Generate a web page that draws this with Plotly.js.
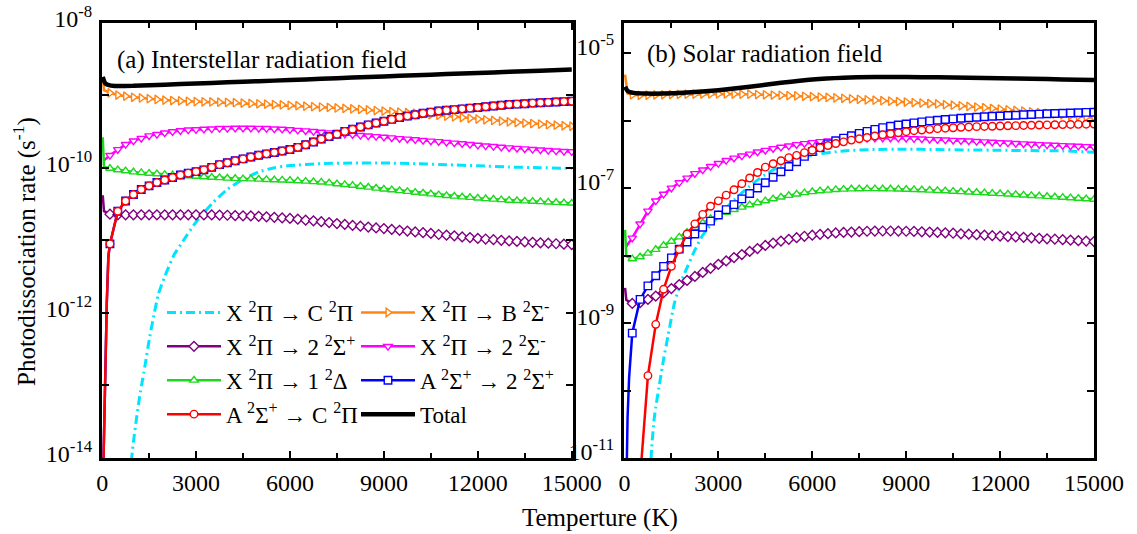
<!DOCTYPE html>
<html><head><meta charset="utf-8">
<script src="https://cdn.plot.ly/plotly-3.0.1.min.js"></script>
<style>html,body{margin:0;padding:0;background:#fff}#chart{width:1137px;height:534px}</style>
</head><body><div id="chart"></div>
<script>
// Temperature grid (K) shared by the marker series
const temps = [250,500,750,1000,1250,1500,1750,2000,2250,2500,
  2750,3000,3250,3500,3750,4000,4250,4500,4750,5000,
  5250,5500,5750,6000,6250,6500,6750,7000,7250,7500,
  7750,8000,8250,8500,8750,9000,9250,9500,9750,10000,
  10250,10500,10750,11000,11250,11500,11750,12000,12250,12500,
  12750,13000,13250,13500,13750,14000,14250,14500,14750,15000];

// ---------- (a) Interstellar radiation field ----------
const a_XC_T = [930,1000,1100,1200,1300,1400,1500,1650,1800,2000,2300,2600,3000,3500,4000,4500,5000,5500,6000,7000,8000,9000,10000,11000,12000,13000,14000,15000];
const a_XC = [8.9e-15,1.66e-14,3.55e-14,7.08e-14,1.26e-13,2.24e-13,4.17e-13,9.12e-13,1.82e-12,3.16e-12,6.31e-12,1.0e-11,1.78e-11,3.16e-11,5.01e-11,6.92e-11,8.71e-11,1.0e-10,1.07e-10,1.135e-10,1.16e-10,1.16e-10,1.135e-10,1.10e-10,1.06e-10,1.02e-10,1.0e-10,9.77e-11];

const a_XB_leadT = [20,60], a_XB_lead = [1.78e-9,1.17e-9];
const a_XB = [1.07e-9,1.00e-9,9.66e-10,9.33e-10,9.12e-10,8.91e-10,8.71e-10,8.51e-10,8.41e-10,8.32e-10,
  8.22e-10,8.13e-10,8.08e-10,8.04e-10,7.99e-10,7.94e-10,7.85e-10,7.76e-10,7.67e-10,7.59e-10,
  7.50e-10,7.41e-10,7.33e-10,7.24e-10,7.14e-10,7.03e-10,6.93e-10,6.84e-10,6.75e-10,6.64e-10,
  6.55e-10,6.46e-10,6.35e-10,6.24e-10,6.13e-10,6.03e-10,5.92e-10,5.82e-10,5.72e-10,5.62e-10,
  5.50e-10,5.37e-10,5.25e-10,5.13e-10,5.01e-10,4.90e-10,4.79e-10,4.68e-10,4.57e-10,4.47e-10,
  4.37e-10,4.27e-10,4.19e-10,4.12e-10,4.05e-10,3.98e-10,3.91e-10,3.85e-10,3.78e-10,3.72e-10];

const a_X2Sp_leadT = [20,60], a_X2Sp_lead = [4.17e-11,2.51e-11];
const a_X2Sp = [2.29e-11,2.24e-11,2.24e-11,2.24e-11,2.24e-11,2.24e-11,2.24e-11,2.24e-11,2.24e-11,2.24e-11,
  2.24e-11,2.24e-11,2.23e-11,2.23e-11,2.22e-11,2.21e-11,2.19e-11,2.17e-11,2.16e-11,2.14e-11,
  2.10e-11,2.07e-11,2.03e-11,2.00e-11,1.95e-11,1.89e-11,1.85e-11,1.80e-11,1.75e-11,1.70e-11,
  1.65e-11,1.60e-11,1.56e-11,1.52e-11,1.48e-11,1.45e-11,1.41e-11,1.37e-11,1.34e-11,1.30e-11,
  1.27e-11,1.24e-11,1.20e-11,1.175e-11,1.15e-11,1.11e-11,1.09e-11,1.06e-11,1.04e-11,1.02e-11,
  9.98e-12,9.77e-12,9.64e-12,9.48e-12,9.35e-12,9.23e-12,9.10e-12,8.95e-12,8.83e-12,8.71e-12];

const a_X2Sm_leadT = [60], a_X2Sm_lead = [1.26e-10];
const a_X2Sm = [1.48e-10,1.78e-10,2.09e-10,2.34e-10,2.54e-10,2.75e-10,2.88e-10,3.02e-10,3.13e-10,3.24e-10,
  3.31e-10,3.35e-10,3.39e-10,3.43e-10,3.47e-10,3.48e-10,3.50e-10,3.51e-10,3.50e-10,3.49e-10,
  3.47e-10,3.43e-10,3.39e-10,3.34e-10,3.28e-10,3.22e-10,3.16e-10,3.09e-10,3.03e-10,2.97e-10,
  2.91e-10,2.85e-10,2.79e-10,2.74e-10,2.69e-10,2.63e-10,2.58e-10,2.52e-10,2.48e-10,2.43e-10,
  2.38e-10,2.33e-10,2.29e-10,2.24e-10,2.19e-10,2.14e-10,2.09e-10,2.04e-10,2.00e-10,1.96e-10,
  1.92e-10,1.88e-10,1.85e-10,1.82e-10,1.79e-10,1.76e-10,1.73e-10,1.70e-10,1.68e-10,1.66e-10];

const a_X1D_leadT = [20,60], a_X1D_lead = [2.63e-10,1.02e-10];
const a_X1D = [9.77e-11,9.33e-11,9.02e-11,8.71e-11,8.53e-11,8.36e-11,8.20e-11,8.04e-11,7.92e-11,7.80e-11,
  7.69e-11,7.59e-11,7.48e-11,7.36e-11,7.26e-11,7.16e-11,7.10e-11,7.03e-11,6.98e-11,6.92e-11,
  6.86e-11,6.79e-11,6.75e-11,6.68e-11,6.59e-11,6.49e-11,6.40e-11,6.31e-11,6.15e-11,5.98e-11,
  5.83e-11,5.69e-11,5.52e-11,5.37e-11,5.21e-11,5.07e-11,4.94e-11,4.81e-11,4.69e-11,4.57e-11,
  4.46e-11,4.34e-11,4.23e-11,4.12e-11,4.04e-11,3.95e-11,3.88e-11,3.80e-11,3.73e-11,3.67e-11,
  3.61e-11,3.55e-11,3.51e-11,3.47e-11,3.43e-11,3.39e-11,3.35e-11,3.31e-11,3.27e-11,3.24e-11];

const a_AC_leadT = [40,100,150,200], a_AC_lead = [7.9e-15,2.0e-13,1.41e-12,6.0e-12];
const a_AC = [8.9e-12,2.51e-11,3.47e-11,4.27e-11,5.01e-11,5.62e-11,6.24e-11,6.76e-11,7.33e-11,7.94e-11,
  8.41e-11,8.81e-11,9.33e-11,1.01e-10,1.10e-10,1.17e-10,1.245e-10,1.32e-10,1.40e-10,1.48e-10,
  1.55e-10,1.62e-10,1.70e-10,1.78e-10,1.905e-10,2.07e-10,2.26e-10,2.48e-10,2.69e-10,2.88e-10,
  3.16e-10,3.39e-10,3.63e-10,3.89e-10,4.12e-10,4.37e-10,4.62e-10,4.90e-10,5.13e-10,5.37e-10,
  5.62e-10,5.82e-10,6.03e-10,6.17e-10,6.31e-10,6.46e-10,6.61e-10,6.76e-10,6.92e-10,7.08e-10,
  7.24e-10,7.41e-10,7.50e-10,7.59e-10,7.76e-10,7.85e-10,7.94e-10,8.04e-10,8.13e-10,8.22e-10];
// A->2 2Sigma+ in panel (a) lies underneath A->C (hidden by it)
const a_A2Sp_leadT = a_AC_leadT, a_A2Sp_lead = a_AC_lead, a_A2Sp = a_AC;

const a_Tot_T = [20,100,250,500,1000,2000,3000,4000,5000,6000,7000,8000,9000,10000,11000,12000,13000,14000,15000];
const a_Tot = [1.78e-9,1.45e-9,1.36e-9,1.33e-9,1.34e-9,1.39e-9,1.445e-9,1.50e-9,1.555e-9,1.61e-9,1.675e-9,1.74e-9,1.81e-9,1.875e-9,1.945e-9,2.02e-9,2.09e-9,2.17e-9,2.25e-9];

// ---------- (b) Solar radiation field ----------
const b_XC_T = [820,870,950,1000,1100,1250,1400,1600,1800,2000,2250,2500,2750,3000,3300,3500,4000,4500,5000,5500,6000,7000,8000,9000,10000,11000,12000,13000,14000,15000];
const b_XC = [5.01e-12,1.41e-11,3.80e-11,5.62e-11,1.10e-10,2.88e-10,6.76e-10,2.0e-9,3.98e-9,6.61e-9,1.20e-8,2.0e-8,2.82e-8,3.80e-8,5.37e-8,6.61e-8,1.07e-7,1.585e-7,2.14e-7,2.66e-7,3.09e-7,3.55e-7,3.72e-7,3.76e-7,3.72e-7,3.67e-7,3.63e-7,3.59e-7,3.55e-7,3.39e-7];

const b_XB_leadT = [20,100], b_XB_lead = [4.79e-6,2.51e-6];
const b_XB = [2.40e-6,2.37e-6,2.38e-6,2.40e-6,2.41e-6,2.43e-6,2.44e-6,2.455e-6,2.46e-6,2.47e-6,
  2.48e-6,2.48e-6,2.48e-6,2.47e-6,2.46e-6,2.455e-6,2.43e-6,2.41e-6,2.39e-6,2.37e-6,
  2.34e-6,2.32e-6,2.29e-6,2.26e-6,2.23e-6,2.20e-6,2.17e-6,2.14e-6,2.10e-6,2.065e-6,
  2.03e-6,2.00e-6,1.97e-6,1.94e-6,1.91e-6,1.88e-6,1.85e-6,1.82e-6,1.79e-6,1.76e-6,
  1.72e-6,1.69e-6,1.655e-6,1.62e-6,1.585e-6,1.55e-6,1.51e-6,1.48e-6,1.445e-6,1.41e-6,
  1.38e-6,1.35e-6,1.315e-6,1.28e-6,1.25e-6,1.22e-6,1.185e-6,1.155e-6,1.125e-6,1.10e-6];

const b_X2Sp_leadT = [20,60], b_X2Sp_lead = [3.31e-9,2.19e-9];
const b_X2Sp = [1.95e-9,2.0e-9,2.24e-9,2.51e-9,2.82e-9,3.24e-9,3.72e-9,4.27e-9,4.90e-9,5.62e-9,
  6.46e-9,7.41e-9,8.32e-9,9.33e-9,1.035e-8,1.15e-8,1.27e-8,1.41e-8,1.53e-8,1.64e-8,
  1.74e-8,1.84e-8,1.93e-8,2.0e-8,2.06e-8,2.11e-8,2.16e-8,2.20e-8,2.23e-8,2.26e-8,
  2.29e-8,2.30e-8,2.31e-8,2.31e-8,2.30e-8,2.29e-8,2.28e-8,2.25e-8,2.23e-8,2.20e-8,
  2.17e-8,2.14e-8,2.10e-8,2.07e-8,2.04e-8,2.00e-8,1.97e-8,1.94e-8,1.91e-8,1.89e-8,
  1.86e-8,1.83e-8,1.80e-8,1.77e-8,1.75e-8,1.72e-8,1.69e-8,1.66e-8,1.64e-8,1.61e-8];

const b_X2Sm_leadT = [50], b_X2Sm_lead = [1.35e-8];
const b_X2Sm = [1.82e-8,2.95e-8,4.57e-8,6.46e-8,8.13e-8,1.0e-7,1.20e-7,1.41e-7,1.64e-7,1.86e-7,
  2.09e-7,2.32e-7,2.57e-7,2.79e-7,2.99e-7,3.20e-7,3.43e-7,3.63e-7,3.85e-7,4.03e-7,
  4.22e-7,4.42e-7,4.57e-7,4.73e-7,4.90e-7,5.01e-7,5.13e-7,5.25e-7,5.35e-7,5.42e-7,
  5.47e-7,5.50e-7,5.52e-7,5.52e-7,5.50e-7,5.46e-7,5.41e-7,5.35e-7,5.28e-7,5.22e-7,
  5.16e-7,5.10e-7,5.05e-7,4.99e-7,4.92e-7,4.85e-7,4.79e-7,4.72e-7,4.66e-7,4.59e-7,
  4.53e-7,4.47e-7,4.42e-7,4.37e-7,4.32e-7,4.27e-7,4.22e-7,4.17e-7,4.12e-7,4.07e-7];

const b_X1D_leadT = [20,60], b_X1D_lead = [2.40e-8,9.77e-9];
const b_X1D = [8.91e-9,9.55e-9,1.08e-8,1.23e-8,1.41e-8,1.62e-8,1.88e-8,2.21e-8,2.60e-8,3.05e-8,
  3.51e-8,3.98e-8,4.37e-8,4.79e-8,5.19e-8,5.62e-8,6.03e-8,6.46e-8,6.92e-8,7.33e-8,
  7.76e-8,8.13e-8,8.51e-8,8.81e-8,9.08e-8,9.29e-8,9.46e-8,9.59e-8,9.68e-8,9.73e-8,
  9.75e-8,9.75e-8,9.73e-8,9.68e-8,9.62e-8,9.55e-8,9.46e-8,9.38e-8,9.29e-8,9.18e-8,
  9.08e-8,8.95e-8,8.83e-8,8.71e-8,8.59e-8,8.47e-8,8.36e-8,8.24e-8,8.13e-8,8.00e-8,
  7.87e-8,7.74e-8,7.62e-8,7.50e-8,7.38e-8,7.26e-8,7.14e-8,7.03e-8,6.92e-8,6.81e-8];

const b_A2Sp_leadT = [60,100,150,200], b_A2Sp_lead = [3.16e-12,3.98e-11,1.58e-10,3.98e-10];
const b_A2Sp = [7.08e-10,2.24e-9,3.55e-9,5.01e-9,6.92e-9,9.23e-9,1.245e-8,1.585e-8,2.09e-8,2.63e-8,
  3.24e-8,3.98e-8,4.79e-8,5.69e-8,6.92e-8,8.32e-8,1.0e-7,1.20e-7,1.445e-7,1.74e-7,
  2.09e-7,2.45e-7,2.95e-7,3.47e-7,3.98e-7,4.52e-7,5.01e-7,5.50e-7,5.96e-7,6.46e-7,
  6.92e-7,7.41e-7,7.85e-7,8.22e-7,8.61e-7,8.91e-7,9.23e-7,9.55e-7,9.89e-7,1.01e-6,
  1.035e-6,1.06e-6,1.08e-6,1.10e-6,1.12e-6,1.14e-6,1.156e-6,1.17e-6,1.19e-6,1.20e-6,
  1.22e-6,1.23e-6,1.245e-6,1.26e-6,1.27e-6,1.28e-6,1.295e-6,1.305e-6,1.32e-6,1.33e-6];

const b_AC_leadT = [], b_AC_lead = [];
const b_AC = [1.0e-13,5.01e-12,1.66e-10,9.55e-10,3.16e-9,6.92e-9,1.23e-8,2.09e-8,2.95e-8,4.07e-8,
  5.37e-8,6.46e-8,7.85e-8,9.44e-8,1.16e-7,1.41e-7,1.70e-7,2.04e-7,2.29e-7,2.54e-7,
  2.82e-7,3.05e-7,3.35e-7,3.63e-7,3.94e-7,4.27e-7,4.57e-7,4.84e-7,5.13e-7,5.37e-7,
  5.62e-7,5.89e-7,6.17e-7,6.38e-7,6.61e-7,6.84e-7,7.08e-7,7.24e-7,7.41e-7,7.59e-7,
  7.71e-7,7.83e-7,7.94e-7,8.04e-7,8.13e-7,8.18e-7,8.24e-7,8.30e-7,8.36e-7,8.41e-7,
  8.47e-7,8.53e-7,8.59e-7,8.63e-7,8.67e-7,8.71e-7,8.75e-7,8.79e-7,8.83e-7,8.87e-7];

const b_Tot_T = [20,100,300,700,1200,2000,3000,4000,5000,6000,7000,8000,9000,10000,11000,12000,13000,14000,15000];
const b_Tot = [3.16e-6,2.75e-6,2.57e-6,2.51e-6,2.51e-6,2.60e-6,2.82e-6,3.16e-6,3.63e-6,4.07e-6,4.32e-6,4.42e-6,4.42e-6,4.37e-6,4.32e-6,4.25e-6,4.17e-6,4.07e-6,3.98e-6];

// Axis tick labels
const xTicks = [0,3000,6000,9000,12000,15000];
const xTickText = ['0','3000','6000','9000','12000','15000'];
const yTicksA = [1e-14,1e-12,1e-10,1e-8];
const yTextA = ['10<sup>-14</sup>','10<sup>-12</sup>','10<sup>-10</sup>','10<sup>-8</sup>'];
const yMinorA = [1e-13,1e-11,1e-9];
const yTicksB = [1e-11,1e-9,1e-7,1e-5];
const yTextB = ['10<sup>-11</sup>','10<sup>-9</sup>','10<sup>-7</sup>','10<sup>-5</sup>'];
const yMinorB = [1e-10,1e-8,1e-6];

// Legend labels
const names = {
  XC: 'X <sup>2</sup>\u03A0 \u2192 C <sup>2</sup>\u03A0',
  XB: 'X <sup>2</sup>\u03A0 \u2192 B <sup>2</sup>\u03A3<sup>-</sup>',
  X2Sp: 'X <sup>2</sup>\u03A0 \u2192 2 <sup>2</sup>\u03A3<sup>+</sup>',
  X2Sm: 'X <sup>2</sup>\u03A0 \u2192 2 <sup>2</sup>\u03A3<sup>-</sup>',
  X1D: 'X <sup>2</sup>\u03A0 \u2192 1 <sup>2</sup>\u0394',
  A2Sp: 'A <sup>2</sup>\u03A3<sup>+</sup> \u2192 2 <sup>2</sup>\u03A3<sup>+</sup>',
  AC: 'A <sup>2</sup>\u03A3<sup>+</sup> \u2192 C <sup>2</sup>\u03A0',
  Tot: 'Total'
};
const colors = {XC:'#00E5FF', XB:'#FF8515', X2Sp:'#800080', X2Sm:'#FF00FF', X1D:'#1ED81E', A2Sp:'#0000FF', AC:'#FF0000', Tot:'#000000'};
const symbols = {XB:'triangle-right', X2Sp:'diamond', X2Sm:'triangle-down', X1D:'triangle-up', A2Sp:'square', AC:'circle'};

const traces = [];
function lineOnly(key, xs, ys, xa, ya, legend, showlegend) {
  const isTot = key === 'Tot';
  traces.push({type:'scatter', mode:'lines', x:xs, y:ys, xaxis:xa, yaxis:ya, name:names[key],
    legend:legend, legendgroup:key+xa, showlegend:showlegend,
    line:{color:colors[key], width:isTot?4.5:3, dash:isTot?'solid':'9px,4px,2px,4px', shape:'spline', smoothing:0.6}});
}
function marked(key, leadT, leadV, vals, xa, ya, legend, showlegend) {
  if (leadT.length) {
    traces.push({type:'scatter', mode:'lines', x:leadT.concat([temps[0]]), y:leadV.concat([vals[0]]),
      xaxis:xa, yaxis:ya, showlegend:false, hoverinfo:'skip',
      line:{color:colors[key], width:2.5}});
  }
  traces.push({type:'scatter', mode:'lines+markers', x:temps, y:vals, xaxis:xa, yaxis:ya, name:names[key],
    legend:legend, legendgroup:key+xa, showlegend:showlegend,
    line:{color:colors[key], width:2.5},
    marker:{symbol:symbols[key], size:7.5, color:'#ffffff', line:{color:colors[key], width:1.4}}});
}

// Panel (a)
lineOnly('XC', a_XC_T, a_XC, 'x', 'y', 'legend', true);
marked('XB', a_XB_leadT, a_XB_lead, a_XB, 'x', 'y', 'legend2', true);
marked('X2Sp', a_X2Sp_leadT, a_X2Sp_lead, a_X2Sp, 'x', 'y', 'legend', true);
marked('X2Sm', a_X2Sm_leadT, a_X2Sm_lead, a_X2Sm, 'x', 'y', 'legend2', true);
marked('X1D', a_X1D_leadT, a_X1D_lead, a_X1D, 'x', 'y', 'legend', true);
marked('A2Sp', a_A2Sp_leadT, a_A2Sp_lead, a_A2Sp, 'x', 'y', 'legend2', true);
marked('AC', a_AC_leadT, a_AC_lead, a_AC, 'x', 'y', 'legend', true);
lineOnly('Tot', a_Tot_T, a_Tot, 'x', 'y', 'legend2', true);
// Panel (b)
lineOnly('XC', b_XC_T, b_XC, 'x2', 'y2', 'legend', false);
marked('XB', b_XB_leadT, b_XB_lead, b_XB, 'x2', 'y2', 'legend', false);
marked('X2Sp', b_X2Sp_leadT, b_X2Sp_lead, b_X2Sp, 'x2', 'y2', 'legend', false);
marked('X2Sm', b_X2Sm_leadT, b_X2Sm_lead, b_X2Sm, 'x2', 'y2', 'legend', false);
marked('X1D', b_X1D_leadT, b_X1D_lead, b_X1D, 'x2', 'y2', 'legend', false);
marked('A2Sp', b_A2Sp_leadT, b_A2Sp_lead, b_A2Sp, 'x2', 'y2', 'legend', false);
marked('AC', b_AC_leadT, b_AC_lead, b_AC, 'x2', 'y2', 'legend', false);
lineOnly('Tot', b_Tot_T, b_Tot, 'x2', 'y2', 'legend', false);

const axBase = {showline:true, linecolor:'#000', linewidth:2.5, mirror:'allticks', ticks:'inside',
  ticklen:7, tickwidth:2, tickcolor:'#000', showgrid:false, zeroline:false, tickfont:{size:24, color:'#000'}};
const xMinor = {ticks:'inside', ticklen:5, tickwidth:2, tickcolor:'#000', dtick:1500, tick0:0, showgrid:false};
const W = 1137, H = 534;
const yDom = [1-458/H, 1-22.5/H];

const layout = {
  width:W, height:H, margin:{l:0,r:0,t:0,b:0}, paper_bgcolor:'#fff', plot_bgcolor:'#fff',
  font:{family:'Liberation Serif, serif', color:'#000', size:24},
  showlegend:true,
  xaxis:Object.assign({}, axBase, {domain:[101.5/W, 573/W], range:[-20,15040], tickmode:'array', tickvals:xTicks, ticktext:xTickText, minor:xMinor, anchor:'y', ticklabelstandoff:2}),
  yaxis:Object.assign({}, axBase, {domain:yDom, type:'log', range:[-14,-8], tickmode:'array', tickvals:yTicksA, ticktext:yTextA, anchor:'x', ticklabelstandoff:2, ticklabelshift:-4,
    minor:{tickmode:'array', tickvals:yMinorA, ticks:'inside', ticklen:7, tickwidth:2, tickcolor:'#000', showgrid:false}}),
  xaxis2:Object.assign({}, axBase, {domain:[623.5/W, 1094/W], range:[-30,15000], tickmode:'array', tickvals:xTicks, ticktext:xTickText, minor:xMinor, anchor:'y2', ticklabelstandoff:2}),
  yaxis2:Object.assign({}, axBase, {domain:yDom, type:'log', range:[-11,-4.547], tickmode:'array', tickvals:yTicksB, ticktext:yTextB, anchor:'x2', ticklabelstandoff:2, ticklabelshift:-6,
    minor:{tickmode:'array', tickvals:yMinorB, ticks:'inside', ticklen:7, tickwidth:2, tickcolor:'#000', showgrid:false}}),
  legend:{x:162/W, y:1-291/H, xanchor:'left', yanchor:'top', bgcolor:'rgba(0,0,0,0)', borderwidth:0,
    font:{size:23, color:'#000'}, itemwidth:54, tracegroupgap:1, traceorder:'grouped', orientation:'v'},
  legend2:{x:356/W, y:1-291/H, xanchor:'left', yanchor:'top', bgcolor:'rgba(0,0,0,0)', borderwidth:0,
    font:{size:23, color:'#000'}, itemwidth:54, tracegroupgap:1, traceorder:'grouped', orientation:'v'},
  annotations:[
    {xref:'paper', yref:'paper', x:115/W, y:1-60/H, xanchor:'left', yanchor:'middle', showarrow:false,
     text:'(a) Interstellar radiation field', font:{size:25}},
    {xref:'paper', yref:'paper', x:645/W, y:1-54/H, xanchor:'left', yanchor:'middle', showarrow:false,
     text:'(b) Solar radiation field', font:{size:25}},
    {xref:'paper', yref:'paper', x:600/W, y:1-518/H, xanchor:'center', yanchor:'middle', showarrow:false,
     text:'Temperture (K)', font:{size:25}},
    {xref:'paper', yref:'paper', x:24/W, y:1-252/H, xanchor:'center', yanchor:'middle', showarrow:false,
     textangle:-90, text:'Photodissociation rate (s<sup>-1</sup>)', font:{size:25}}
  ]
};

Plotly.newPlot('chart', traces, layout, {displayModeBar:false, staticPlot:true});
</script>
</body></html>
